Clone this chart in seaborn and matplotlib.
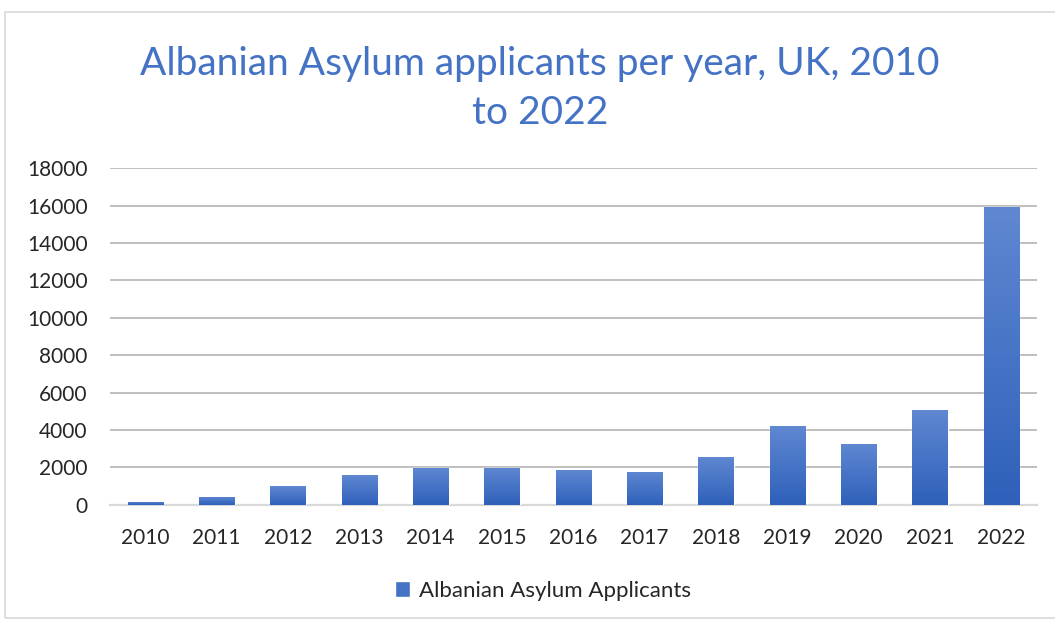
import numpy as np
import pandas as pd
import matplotlib.pyplot as plt
import seaborn as sns
from matplotlib.patches import Rectangle

# Données
years = ["2010", "2011", "2012", "2013", "2014", "2015", "2016",
         "2017", "2018", "2019", "2020", "2021", "2022"]
applicants = [165, 440, 985, 1580, 1980, 1985, 1840, 1770, 2570, 4230, 3270, 5090, 15910]
y_ticks = [0, 2000, 4000, 6000, 8000, 10000, 12000, 14000, 16000, 18000]
series_name = "Albanian Asylum Applicants"
title = "Albanian Asylum applicants per year, UK, 2010\nto 2022"

df = pd.DataFrame({"Year": years, "Applicants": applicants})

sns.set_style("white")
plt.rcParams['font.family'] = ['Lato', 'DejaVu Sans']

fig = plt.figure(figsize=(10.55, 6.21), dpi=100)
ax = fig.add_axes([0.104, 0.187, 0.879, 0.542])

bar_color = "#4472C4"
sns.barplot(data=df, x="Year", y="Applicants", color=bar_color, width=0.5,
            saturation=1, ax=ax, label=series_name, zorder=3)

# dégradé vertical sur chaque barre (plus clair en haut)
grad = np.linspace(0, 1, 256).reshape(-1, 1)
cmap = sns.blend_palette(["#2E60BA", "#6088D2"], as_cmap=True)
for bar in ax.patches:
    x0, y0 = bar.get_x(), bar.get_y()
    w, h = bar.get_width(), bar.get_height()
    im = ax.imshow(grad, extent=[x0, x0 + w, y0, y0 + h], origin="lower",
                   aspect="auto", cmap=cmap, zorder=4)
    im.set_clip_path(bar)

ax.set_xlim(-0.5, len(years) - 0.5)
ax.set_ylim(0, 18000)
ax.set_yticks(y_ticks)
ax.set_yticklabels([str(t) for t in y_ticks])
ax.yaxis.grid(True, color="#BFBFBF", linewidth=1.4, zorder=0)
ax.set_axisbelow(True)
for s in ["top", "right", "left"]:
    ax.spines[s].set_visible(False)
ax.spines["bottom"].set_color("#D9D9D9")
ax.spines["bottom"].set_linewidth(1.6)
ax.tick_params(axis="both", length=0, labelsize=15, labelcolor="#262626")
ax.tick_params(axis="x", pad=17)
ax.tick_params(axis="y", pad=16)
ax.set_xlabel("")
ax.set_ylabel("")

fig.text(0.512, 0.858, title, ha="center", va="center", fontsize=28,
         color="#4472C4", linespacing=1.45)

ax.legend(loc="center", bbox_to_anchor=(0.467, -0.255), frameon=False,
          fontsize=16, handlelength=0.7, handleheight=0.7, handletextpad=0.4,
          labelcolor="#262626")

# cadre du graphique
fig.patches.append(Rectangle((5 / 1055, 3 / 621), 1.1, 606 / 621, transform=fig.transFigure,
                             fill=False, edgecolor="#D9D9D9", linewidth=1.2))

fig.savefig("out.png", dpi=100)
